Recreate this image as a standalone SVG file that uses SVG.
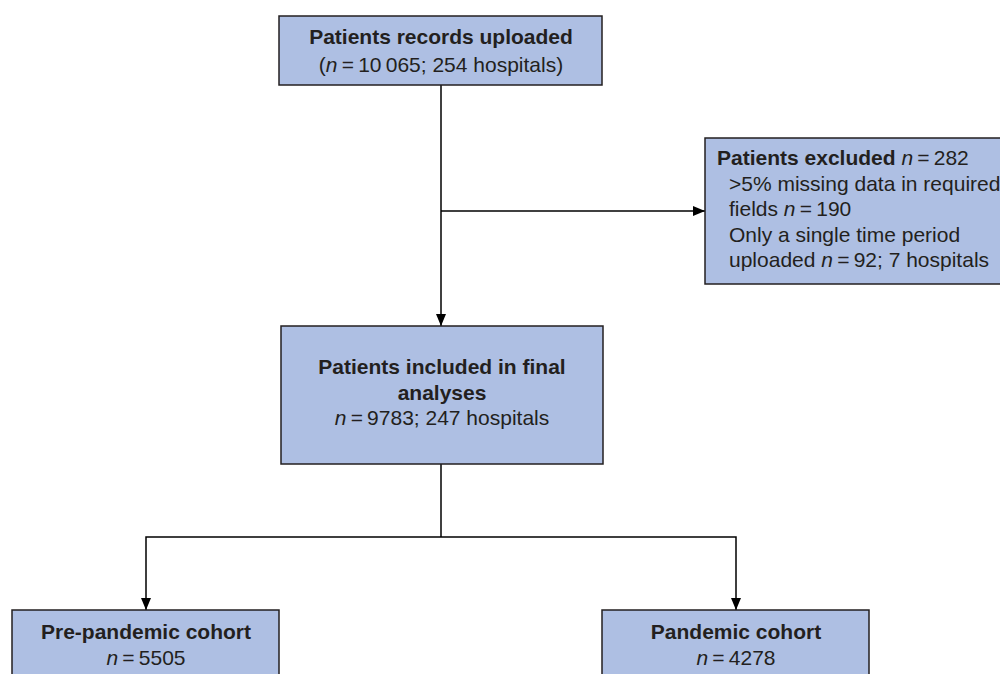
<svg xmlns="http://www.w3.org/2000/svg" width="1000" height="674" viewBox="0 0 1000 674">
<defs>
<marker id="arr" markerWidth="12" markerHeight="10" refX="12" refY="5" orient="auto" markerUnits="userSpaceOnUse">
<path d="M0,0 L12,5 L0,10 Z" fill="#000"/>
</marker>
<style>
.box{fill:#aebfe3;stroke:#231f20;stroke-width:1.5}
.t{font-family:"Liberation Sans",Arial,sans-serif;font-size:21px;fill:#231f20}
.b{font-weight:bold}
.c{text-anchor:middle}
.i{font-style:italic}
.ln{fill:none;stroke:#000;stroke-width:1.5}
</style>
</defs>
<rect width="1000" height="674" fill="#fff"/>
<g id="connectors">
<line class="ln" x1="441" y1="85" x2="441" y2="326" marker-end="url(#arr)"/>
<line class="ln" x1="441" y1="211" x2="705" y2="211" marker-end="url(#arr)"/>
<polyline class="ln" points="441,464 441,537"/>
<polyline class="ln" points="441,537 146,537 146,610" marker-end="url(#arr)"/>
<polyline class="ln" points="441,537 736,537 736,610" marker-end="url(#arr)"/>
</g>
<g id="node-uploaded">
<rect class="box" x="279" y="16" width="323" height="69"/>
<text class="t b c" x="441" y="44">Patients records uploaded</text>
<text class="t c" x="441" y="72">(<tspan class="i">n</tspan>&#8201;=&#8201;10&#8201;065; 254 hospitals)</text>
</g>
<g id="node-excluded">
<rect class="box" x="705" y="138" width="300" height="146"/>
<text class="t" x="717" y="165"><tspan class="b">Patients excluded</tspan> <tspan class="i">n</tspan>&#8201;=&#8201;282</text>
<text class="t" x="729" y="191">&gt;5% missing data in required</text>
<text class="t" x="729" y="216">fields <tspan class="i">n</tspan>&#8201;=&#8201;190</text>
<text class="t" x="729" y="242">Only a single time period</text>
<text class="t" x="729" y="267">uploaded <tspan class="i">n</tspan>&#8201;=&#8201;92; 7 hospitals</text>
</g>
<g id="node-included">
<rect class="box" x="281" y="326" width="322" height="138"/>
<text class="t b c" x="442" y="374">Patients included in final</text>
<text class="t b c" x="442" y="400">analyses</text>
<text class="t c" x="442" y="425"><tspan class="i">n</tspan>&#8201;=&#8201;9783; 247 hospitals</text>
</g>
<g id="node-prepandemic">
<rect class="box" x="12" y="610" width="267" height="70"/>
<text class="t b c" x="146" y="639">Pre-pandemic cohort</text>
<text class="t c" x="146" y="665"><tspan class="i">n</tspan>&#8201;=&#8201;5505</text>
</g>
<g id="node-pandemic">
<rect class="box" x="602" y="610" width="267" height="70"/>
<text class="t b c" x="736" y="639">Pandemic cohort</text>
<text class="t c" x="736" y="665"><tspan class="i">n</tspan>&#8201;=&#8201;4278</text>
</g>
</svg>
